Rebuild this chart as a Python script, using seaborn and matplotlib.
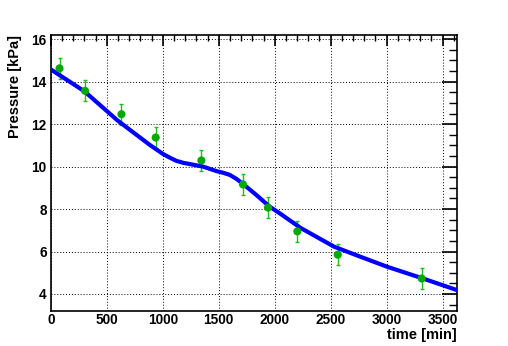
import matplotlib
matplotlib.use("Agg")
import matplotlib.pyplot as plt
from matplotlib.ticker import MultipleLocator
import seaborn as sns
import pandas as pd

# measured points
t_meas = [78, 306, 631, 937, 1345, 1717, 1940, 2202, 2563, 3313]
p_meas = [14.63, 13.57, 12.47, 11.37, 10.29, 9.16, 8.07, 6.95, 5.85, 4.73]
p_err = [0.5, 0.5, 0.5, 0.5, 0.5, 0.5, 0.5, 0.5, 0.5, 0.5]

# model curve
t_fit = [0, 300, 595, 885, 1004, 1064, 1123, 1183, 1242, 1361, 1480, 1540, 1599, 1659, 1718,
         1837, 1956, 2045, 2232, 2530, 2768, 3006, 3313, 3630]
p_fit = [14.58, 13.55, 12.18, 11.02, 10.59, 10.42, 10.27, 10.18, 10.12, 10.00, 9.79, 9.71, 9.61,
         9.42, 9.18, 8.66, 8.11, 7.80, 7.11, 6.23, 5.75, 5.28, 4.75, 4.18]

sns.set_style("white")
plt.rcParams['font.family'] = ['Liberation Sans', 'DejaVu Sans']
plt.rcParams['font.weight'] = 'bold'
plt.rcParams['text.color'] = 'black'
plt.rcParams['axes.labelcolor'] = 'black'
plt.rcParams['xtick.color'] = 'black'
plt.rcParams['ytick.color'] = 'black'

fig = plt.figure(figsize=(5.08, 3.46), dpi=100)
ax = fig.add_axes([0.1, 0.1, 0.8, 0.8])

df_fit = pd.DataFrame({"t": t_fit, "p": p_fit})
df_meas = pd.DataFrame({"t": t_meas, "p": p_meas, "e": p_err})

ax.errorbar(df_meas["t"], df_meas["p"], yerr=df_meas["e"], fmt="none",
            ecolor="#22bb22", elinewidth=1, capsize=1.5, capthick=1, zorder=2)
sns.lineplot(data=df_fit, x="t", y="p", color="#0000ff", linewidth=3,
             sort=False, ax=ax, zorder=3)
sns.scatterplot(data=df_meas, x="t", y="p", color="#00aa00", s=34,
                edgecolor="none", ax=ax, zorder=4)

ax.set_xlim(0, 3630)
ax.set_ylim(3.18, 16.22)

ax.xaxis.set_major_locator(MultipleLocator(500))
ax.xaxis.set_minor_locator(MultipleLocator(100))
ax.yaxis.set_major_locator(MultipleLocator(2))
ax.yaxis.set_minor_locator(MultipleLocator(0.5))

ax.grid(True, which="major", color="black", linestyle=(0, (1, 2)), linewidth=0.7)
ax.tick_params(axis="both", which="both", direction="in", top=True, right=True,
               labelsize=9.8, colors="black")
ax.tick_params(axis="x", which="major", length=8, width=1.2)
ax.tick_params(axis="x", which="minor", length=4, width=1)
ax.tick_params(axis="y", which="major", length=11, width=1.2)
ax.tick_params(axis="y", which="minor", length=6, width=1)
ax.tick_params(axis="x", pad=1.5)
ax.tick_params(axis="y", pad=3)
for lab in ax.get_xticklabels() + ax.get_yticklabels():
    lab.set_fontweight("bold")
    lab.set_color("black")
for s in ax.spines.values():
    s.set_color("black")
    s.set_linewidth(1.2)

ax.set_xlabel("")
ax.set_ylabel("")
fig.text(0.9, 0.031, "time [min]", ha="right", va="center", fontsize=10.5,
         fontweight="bold", color="black")
fig.text(0.03, 0.9, "Pressure [kPa]", ha="center", va="top", rotation=90,
         fontsize=10.5, fontweight="bold", color="black")

if ax.get_legend() is not None:
    ax.get_legend().remove()

fig.savefig("out.png", dpi=100)
